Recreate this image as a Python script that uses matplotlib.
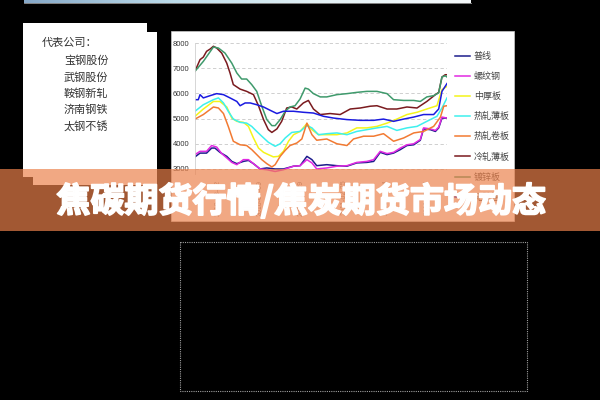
import matplotlib
matplotlib.use("Agg")
import matplotlib.pyplot as plt
import matplotlib.patheffects as pe
from matplotlib.patches import Rectangle
from matplotlib.colors import LinearSegmentedColormap
import numpy as np

plt.rcParams['font.family'] = ['Noto Sans CJK SC', 'DejaVu Sans']

# weekly steel price index (yuan/ton), week 0..100
wire_wk = [0, 2, 4.6, 6.6, 7.9, 9.9, 12.6, 14.6, 16.6, 19.2, 21.2, 23.2, 25.8, 28.5, 31.8, 35.1, 39.1, 41.7, 44.4, 46.4,
           48.3, 52.3, 56.3, 60.3, 64.2, 68.2, 70.9, 73.5, 76.2, 78.8, 81.5, 84.1, 86.8, 89.4, 90.7, 93.4, 95.4, 96.7, 98, 100]
wire = [3480, 3630, 3630, 3830, 3830, 3660, 3500, 3300, 3210, 3300, 3340, 3210, 3000, 3040, 3000, 3000, 3110, 3130, 3500, 3370,
        3130, 3170, 3130, 3110, 3240, 3260, 3300, 3660, 3570, 3630, 3770, 3930, 3960, 4140, 4590, 4560, 4490, 4630, 5020, 5020]

rebar_wk = [0, 2, 4.6, 6.6, 8.6, 10.6, 12.6, 14.6, 16.6, 19.2, 21.2, 23.2, 25.8, 28.5, 31.8, 35.1, 39.1, 41.7, 44.4, 46.4,
            48.3, 52.3, 56.3, 60.3, 64.2, 68.2, 70.9, 73.5, 76.2, 78.8, 81.5, 84.1, 86.8, 89.4, 90.7, 93.4, 95.4, 96.7, 98, 100]
rebar = [3570, 3700, 3700, 3930, 3870, 3610, 3440, 3260, 3170, 3370, 3370, 3210, 3000, 2970, 2900, 2970, 3110, 3130, 3370, 3240,
         3000, 3040, 3110, 3130, 3260, 3300, 3370, 3700, 3610, 3660, 3830, 3960, 4000, 4170, 4630, 4590, 4530, 4660, 5060, 5020]

plate_wk = [0, 3.3, 7.3, 9.9, 12.6, 14.6, 16.6, 19.2, 21.2, 23.2, 25.2, 27.2, 29.1, 31.1, 33.1, 35.1, 37.1, 39.1, 41.7, 44.4,
            46.4, 49, 52.3, 56.3, 60.3, 64.2, 68.2, 72.2, 76.2, 80.1, 84.1, 88.1, 92, 96, 98, 100]
plate = [5090, 5380, 5680, 5680, 5460, 5020, 4890, 4850, 4690, 4230, 3830, 3660, 3570, 3480, 3500, 3700, 4100, 4360, 4490, 4800,
         4560, 4360, 4360, 4360, 4430, 4630, 4630, 4690, 4820, 4980, 5160, 5250, 5380, 5510, 6150, 6280]

hr_sheet_wk = [0, 3.3, 7.3, 9.3, 11.3, 13.2, 15.2, 17.9, 20.5, 22.5, 24.5, 26.5, 29.1, 31.8, 33.8, 35.8, 38.4, 41.7, 44.4, 46.4,
               49, 52.3, 56.3, 60.3, 64.2, 68.2, 72.2, 76.2, 80.1, 84.1, 88.1, 92, 96, 98, 100]
hr_sheet = [5290, 5550, 5750, 5820, 5620, 5290, 4980, 4850, 4820, 4690, 4490, 4300, 4060, 3900, 4000, 4230, 4450, 4490, 4720, 4630,
            4360, 4400, 4430, 4360, 4490, 4560, 4630, 4690, 4530, 4630, 4690, 4890, 5090, 5420, 5820]

hr_coil_wk = [0, 3.3, 7.3, 9.3, 11.3, 13.2, 15.2, 17.9, 20.5, 22.5, 24.5, 26.5, 28.5, 30.5, 31.8, 33.8, 35.8, 37.7, 40.4, 42.4,
              44.4, 46.4, 48.3, 52.3, 56.3, 60.3, 62.9, 66.9, 70.9, 74.8, 78.8, 82.8, 86.8, 90.7, 94.7, 97.4, 98.7, 100]
hr_coil = [4980, 5160, 5460, 5420, 5200, 4690, 4100, 3960, 3930, 3770, 3570, 3370, 3210, 3080, 3170, 3500, 3740, 3930, 4030, 4190,
           4820, 4360, 4140, 4190, 4000, 3930, 4190, 4300, 4300, 4400, 4100, 4230, 4430, 4490, 4690, 5060, 5490, 5510]

cr_sheet_wk = [0, 2, 3.3, 4.6, 6, 7.3, 8.6, 10.6, 12.6, 13.9, 15.2, 17.9, 20.5, 23.2, 25.2, 27.2, 29.1, 30.5, 32.5, 34.4,
               36.4, 38.4, 40.4, 43, 45, 47, 49.7, 53.6, 57.6, 61.6, 65.6, 69.5, 72.2, 76.2, 80.1, 84.1, 88.1, 92, 95.4, 96.7,
               98, 99.3, 100]
cr_sheet = [6880, 7340, 7440, 7670, 7760, 7870, 7800, 7600, 7200, 6810, 6350, 6170, 6080, 5950, 5510, 4960, 4560, 4450, 4590, 4890,
            5420, 5460, 5380, 5620, 5720, 5380, 5160, 5200, 5160, 5380, 5420, 5490, 5510, 5380, 5380, 5460, 5420, 5680, 5950, 6040,
            6650, 6740, 6740]

galv_wk = [0, 3.3, 7.3, 9.3, 11.9, 14.6, 16.6, 18.5, 20.5, 22.5, 24.5, 26.5, 28.5, 30.5, 31.8, 33.8, 35.8, 37.7, 39.7, 41.7,
           43.7, 45, 47, 49.7, 52.3, 56.3, 60.3, 64.2, 68.2, 72.2, 76.2, 78.8, 82.8, 86.8, 89.4, 92, 94.7, 96.7, 98, 99.3, 100]
galv = [6880, 7270, 7840, 7800, 7600, 7200, 6810, 6570, 6570, 6350, 6080, 5490, 4960, 4720, 4720, 4960, 5290, 5460, 5510, 5780,
        6210, 6170, 5990, 5860, 5860, 5950, 5990, 6040, 6080, 6080, 5990, 5750, 5720, 5720, 5680, 5860, 5910, 6020, 6650, 6700, 6650]

pipe_wk = [0, 1.3, 2, 3.3, 6, 8.6, 11.3, 13.9, 16.6, 17.9, 19.9, 21.9, 24.5, 27.2, 29.8, 32.5, 35.1, 39.1, 43, 47,
           51, 55, 60.3, 65.6, 70.9, 74.8, 78.8, 82.8, 86.8, 90.7, 94.7, 96.7, 98, 100]
pipe = [5750, 5750, 5950, 5820, 5910, 5990, 5950, 5820, 5680, 5510, 5620, 5620, 5550, 5460, 5330, 5200, 5290, 5290, 5250, 5220,
        5090, 5020, 4960, 4930, 4930, 4980, 4890, 4980, 5060, 5160, 5160, 5380, 6080, 6390]

series_names = ['普线', '螺纹钢', '中厚板', '热轧薄板', '热轧卷板', '冷轧薄板', '镀锌板', '无缝管']
series_colors = ['#1c1c8c', '#e22ae2', '#f4f41a', '#3ef0ee', '#f27a32', '#7a1a1e', '#3f9a6c', '#1a1ae0']

yticks = [3000, 4000, 5000, 6000, 7000, 8000]
xtick_wk = [9, 26, 42, 59, 76, 92]
xtick_labels = ['2010-03-12', '2010-07-09', '2010-10-29', '2011-02-25', '2011-06-24', '2011-10-14']

companies_title = '代表公司：'
companies = ['宝钢股份', '武钢股份', '鞍钢新轧', '济南钢铁', '太钢不锈']
title = '焦碳期货行情/焦炭期货市场动态'

fig = plt.figure(figsize=(6, 4), dpi=100)
fig.patch.set_facecolor('black')

# background layer in pixel coordinates
bg = fig.add_axes([0, 0, 1, 1], zorder=0)
bg.set_xlim(0, 600)
bg.set_ylim(400, 0)
bg.axis('off')

grad = np.linspace(0, 1, 256).reshape(1, -1)
bar_cmap = LinearSegmentedColormap.from_list('bar', ['#86a8c8', '#bcdcea', '#e4f2f6', '#f4f8fa'])
bg.imshow(grad, cmap=bar_cmap, extent=[24, 471, 3.2, 0], aspect='auto')
bg.plot([24, 471], [3.4, 3.4], color='#9a9a9a', lw=0.6)

bg.add_patch(Rectangle((23, 23), 124, 154, facecolor='white', edgecolor='none'))
bg.add_patch(Rectangle((33, 32), 124, 153, facecolor='white', edgecolor='none'))
bg.add_patch(Rectangle((171, 31), 343, 190, facecolor='white', edgecolor='#cccccc', lw=0.5))
bg.add_patch(Rectangle((179.5, 241.5), 347, 149.5, facecolor='none', edgecolor='#a0a0a0',
                       lw=0.8, linestyle=(0, (1, 1))))

bg.text(42, 43, companies_title, fontsize=8, color='#333333', va='center', ha='left')
for i, name in enumerate(companies):
    bg.text(64, 61 + i * 16.2, name, fontsize=8, color='#333333', va='center', ha='left')

# the price chart
ax = fig.add_axes([195 / 600, 1 - 174 / 400, 252 / 600, 131 / 400], zorder=1)
ax.set_facecolor('none')
xs = [wire_wk, rebar_wk, plate_wk, hr_sheet_wk, hr_coil_wk, cr_sheet_wk, galv_wk, pipe_wk]
ys = [wire, rebar, plate, hr_sheet, hr_coil, cr_sheet, galv, pipe]
handles = []
for x, y, name, c in zip(xs, ys, series_names, series_colors):
    h, = ax.plot(x, y, color=c, lw=1.1, label=name)
    handles.append(h)

ax.set_xlim(0, 100)
ax.set_ylim(2800, 8000)
ax.set_yticks(yticks)
ax.set_yticklabels([str(v) for v in yticks], fontsize=5.5, color='#333333', family='Liberation Sans')
ax.set_xticks(xtick_wk)
ax.set_xticklabels(xtick_labels, rotation=90, fontsize=5, color='#8a8a8a', family='Liberation Sans')
ax.tick_params(length=0, pad=4)
ax.yaxis.grid(True, linestyle=(0, (4, 3)), color='#c8c8c8', lw=0.6)
ax.set_axisbelow(True)
for s in ['top', 'right', 'bottom']:
    ax.spines[s].set_visible(False)
ax.spines['left'].set_color('#d0d0d0')
ax.spines['left'].set_linewidth(0.6)

ax.legend(handles=handles, loc='upper left', bbox_to_anchor=(455 / 600, 1 - 52 / 400),
          bbox_transform=fig.transFigure, frameon=False, fontsize=6.5, labelcolor='#444444',
          handlelength=1.7, handletextpad=0.4, labelspacing=1.22, borderpad=0, borderaxespad=0)

# banner overlay on top
top = fig.add_axes([0, 0, 1, 1], zorder=10)
top.set_xlim(0, 600)
top.set_ylim(400, 0)
top.axis('off')
top.patch.set_alpha(0)
top.add_patch(Rectangle((0, 169), 600, 62, facecolor='#ec814b', alpha=0.69, edgecolor='none'))
top.text(301, 201, title, fontsize=24.5, weight='bold', color='white', ha='center', va='center',
         path_effects=[pe.withStroke(linewidth=1.3, foreground='white')])

fig.savefig('out.png', dpi=100, facecolor='black')
